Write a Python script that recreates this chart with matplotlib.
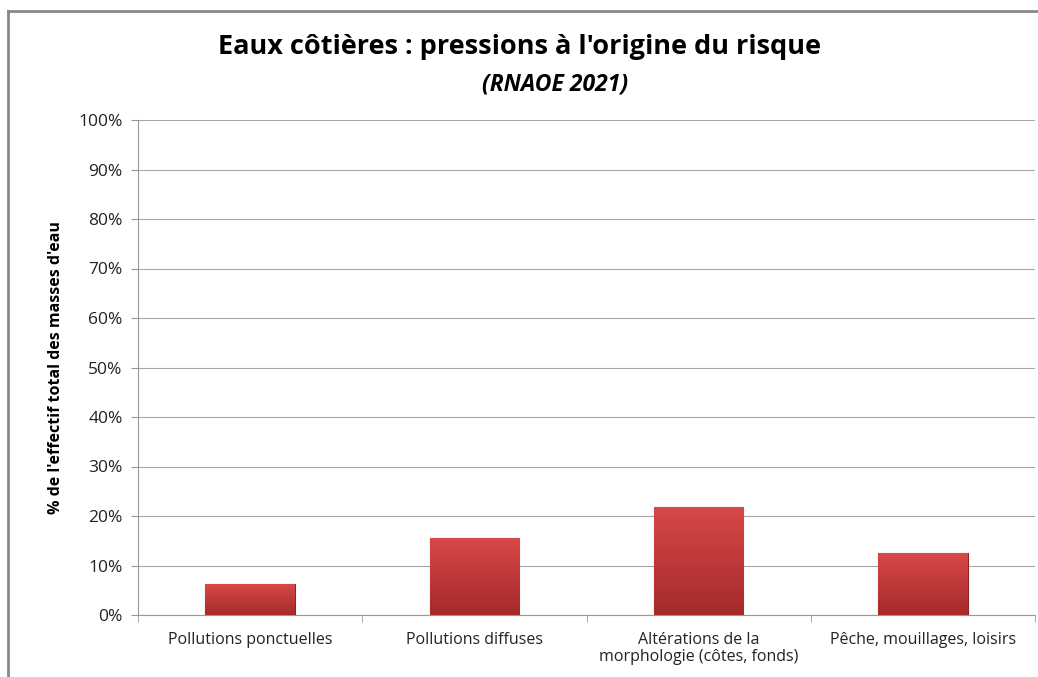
import matplotlib.pyplot as plt
import matplotlib.colors as mcolors
import numpy as np
from matplotlib.ticker import FuncFormatter, FixedLocator

# donnees
categories = ["Pollutions ponctuelles", "Pollutions diffuses",
              "Altérations de la\nmorphologie (côtes, fonds)",
              "Pêche, mouillages, loisirs"]
valeurs = [6.25, 15.6, 21.9, 12.5]
yticks = [0, 10, 20, 30, 40, 50, 60, 70, 80, 90, 100]

plt.rcParams['font.family'] = ['Open Sans', 'DejaVu Sans']

fig = plt.figure(figsize=(10.38, 6.77), dpi=100)
ax = fig.add_axes([138/1038, 1-615/677, 897/1038, 495/677])

x = np.arange(len(categories))
bars = ax.bar(x, valeurs, width=0.4, color="#C93A3A", edgecolor="#8E2222",
              linewidth=0.8, zorder=3)

# degrade vertical dans chaque barre
cmap = mcolors.LinearSegmentedColormap.from_list("rouge", ["#A52A2A", "#D84848"])
grad = np.linspace(0, 1, 100).reshape(-1, 1)
for b in bars:
    x0, y0 = b.get_x(), b.get_y()
    im = ax.imshow(grad, cmap=cmap, origin="lower", aspect="auto",
                   extent=[x0, x0 + b.get_width(), y0, y0 + b.get_height()],
                   zorder=3.5)
    im.set_clip_path(b)

ax.set_xlim(-0.5, len(categories) - 0.5)
ax.set_ylim(0, 100)
ax.yaxis.set_major_locator(FixedLocator(yticks))
ax.yaxis.set_major_formatter(FuncFormatter(lambda v, p: "%d%%" % v))
ax.set_xticks(x)
ax.set_xticklabels(categories, fontsize=11.5, color="#222222", linespacing=1.15)
ax.tick_params(axis="x", length=0, pad=12)
ax.set_xticks(np.arange(len(categories) + 1) - 0.5, minor=True)
ax.tick_params(axis="x", which="minor", length=5, color="#999999")
ax.tick_params(axis="y", length=5, color="#999999", labelsize=12.5,
               labelcolor="#222222", pad=6)
ax.grid(axis="y", color="#A8A8A8", linewidth=0.8, zorder=0)

for s in ["top", "right"]:
    ax.spines[s].set_visible(False)
ax.spines["left"].set_color("#999999")
ax.spines["bottom"].set_color("#999999")

ax.set_ylabel("% de l'effectif total des masses d'eau", fontsize=11.5,
              fontweight="bold", labelpad=10)

fig.text(519/1038, 1-47/677, "Eaux côtières : pressions à l'origine du risque",
         ha="center", va="center", fontsize=19.5, fontweight="bold")
fig.text(555/1038, 1-85/677, "(RNAOE 2021)", ha="center", va="center",
         fontsize=16.5, fontweight="bold", style="italic")

# cadre du graphique
fig.add_artist(plt.Line2D([8/1038, 8/1038], [0, 1-11/677], color="#888888",
                          linewidth=2, transform=fig.transFigure))
fig.add_artist(plt.Line2D([8/1038, 1], [1-11/677, 1-11/677], color="#888888",
                          linewidth=2, transform=fig.transFigure))

fig.savefig("out.png", dpi=100)
